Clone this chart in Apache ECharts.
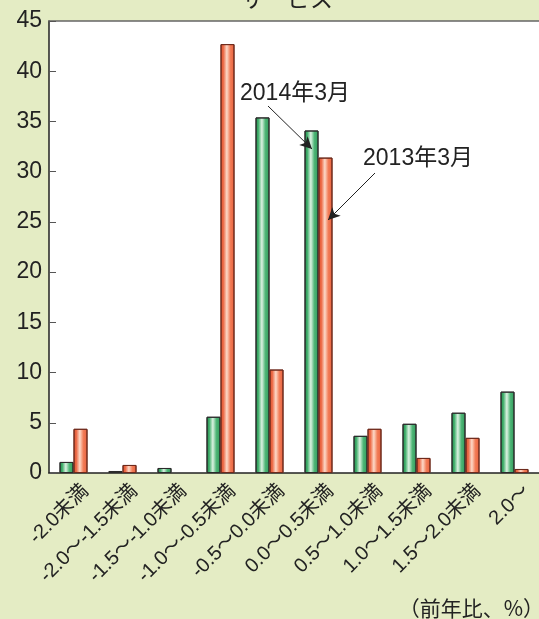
<!DOCTYPE html>
<html><head><meta charset="utf-8">
<script src="https://cdn.jsdelivr.net/npm/echarts@6/dist/echarts.min.js"></script>
<style>html,body{margin:0;padding:0;background:#e4ecc4;}#c{width:539px;height:619px;}</style>
</head><body><div id="c"></div>
<script>
const categories = ["-2.0未満","-2.0～-1.5未満","-1.5～-1.0未満","-1.0～-0.5未満","-0.5～0.0未満","0.0～0.5未満","0.5～1.0未満","1.0～1.5未満","1.5～2.0未満","2.0～"];
const values2014 = [1.1, 0.2, 0.5, 5.6, 35.4, 34.1, 3.7, 4.9, 6.0, 8.1];
const values2013 = [4.4, 0.8, 0, 42.7, 10.3, 31.4, 4.4, 1.5, 3.5, 0.4];
const yTicks = [0, 5, 10, 15, 20, 25, 30, 35, 40, 45];
const seriesNames = ["2014年3月", "2013年3月"];

const FONT = "'Liberation Sans','Noto Sans CJK JP',sans-serif";
const chart = echarts.init(document.getElementById('c'), null, {renderer:'canvas'});
function grad(stops){
  return new echarts.graphic.LinearGradient(0,0,1,0,stops.map(s=>({offset:s[0],color:s[1]})));
}
const gGreen = grad([[0,'#22894c'],[0.2,'#3fae6a'],[0.45,'#dcf2e2'],[0.7,'#4fb677'],[1,'#2f9a5a']]);
const gRed = grad([[0,'#de5533'],[0.2,'#ec6844'],[0.45,'#fcd9c8'],[0.7,'#f27d58'],[1,'#e8603c']]);
function items(vals){
  return vals.map(v => ({value: v, itemStyle: v === 0 ? {borderWidth: 0} : {}}));
}
const baseGraphic = [
  {type: 'text', x: 287, y: -13, style: {text: 'サービス', font: "23px 'Noto Sans CJK JP'", fill: '#222', textAlign: 'center'}},
  {type: 'text', x: 295, y: 94, style: {text: seriesNames[0], font: "23px " + FONT, fill: '#222', textAlign: 'center', textVerticalAlign: 'middle'}},
  {type: 'text', x: 418, y: 159, style: {text: seriesNames[1], font: "23px " + FONT, fill: '#222', textAlign: 'center', textVerticalAlign: 'middle'}},
  {type: 'text', right: -5, bottom: 0, style: {text: '（前年比、%）', font: "21px 'Noto Sans CJK JP'", fill: '#222'}}
];
chart.setOption({
  backgroundColor: '#e4ecc4',
  animation: false,
  grid: {left: 49, right: 0, top: 21, bottom: 146, show: true, backgroundColor: '#ffffff', borderWidth: 0},
  xAxis: [{
    type: 'category', data: categories,
    axisLine: {lineStyle: {color: '#222', width: 1.5}},
    axisTick: {inside: true, length: 8, lineStyle: {color: '#666', width: 1}},
    axisLabel: {show: false}
  },{
    type: 'category', data: categories, position: 'top',
    axisLine: {lineStyle: {color: '#666', width: 1.5}},
    axisTick: {show: false}, axisLabel: {show: false}
  }],
  yAxis: {
    type: 'value', min: yTicks[0], max: yTicks[yTicks.length-1], interval: 5,
    axisLine: {show: true, lineStyle: {color: '#222', width: 1.5}},
    axisTick: {show: true, inside: true, length: 7, lineStyle: {color: '#555'}},
    axisLabel: {fontSize: 23, color: '#222', fontFamily: FONT, margin: 7},
    splitLine: {show: false}
  },
  series: [{
    name: seriesNames[0], type: 'bar', data: items(values2014), barWidth: 14, barGap: '0%',
    itemStyle: {color: gGreen, borderColor: '#2b2b2b', borderWidth: 1},
    markLine: {
      silent: true, symbol: ['none','arrow'], symbolSize: [9, 12],
      lineStyle: {color: '#222', width: 1, type: 'solid'}, label: {show: false},
      data: [
        [{x: 268, y: 106}, {x: 312, y: 149}],
        [{x: 375, y: 173}, {x: 328, y: 220}]
      ]
    }
  },{
    name: seriesNames[1], type: 'bar', data: items(values2013), barWidth: 14,
    itemStyle: {color: gRed, borderColor: '#6e2a1c', borderWidth: 1}
  }],
  graphic: baseGraphic
});
const labelGraphic = categories.map((c, i) => {
  const p = chart.convertToPixel({xAxisIndex: 0, yAxisIndex: 0}, [i, yTicks[0]]);
  return {type: 'text', x: p[0] + 12, y: p[1] + 15, rotation: Math.PI / 4,
    style: {text: c, font: "20px " + FONT, fill: '#222', textAlign: 'right', textVerticalAlign: 'middle'}};
});
chart.setOption({graphic: baseGraphic.concat(labelGraphic)});
</script></body></html>
